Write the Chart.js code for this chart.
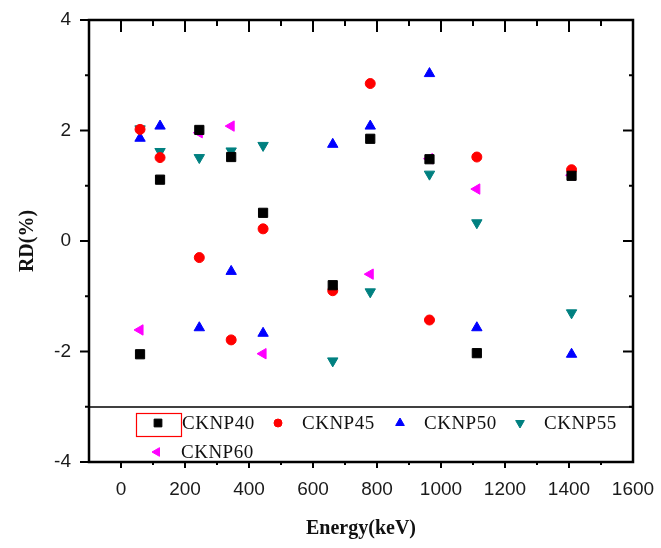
<!DOCTYPE html>
<html>
<head>
<meta charset="utf-8">
<script src="https://cdn.jsdelivr.net/npm/chart.js@4"></script>
<style>html,body{margin:0;padding:0;background:#fff}</style>
</head>
<body>
<canvas id="chart" width="661" height="548"></canvas>
<script>
// gamma energies (keV)
const energies = [59.5, 122, 244.7, 344.3, 444, 661.7, 778.9, 964, 1112, 1408];
// RD (%) per sample
const cknp40 = [-2.05, 1.11, 2.01, 1.52, 0.51, -0.80, 1.85, 1.48, -2.03, 1.18];
const cknp45 = [2.02, 1.51, -0.30, -1.79, 0.22, -0.90, 2.85, -1.43, 1.52, 1.29];
const cknp50 = [1.86, 2.08, -1.57, -0.55, -1.67, 1.75, 2.08, 3.03, -1.57, -2.05];
const cknp55 = [2.03, 1.62, 1.51, 1.63, 1.73, -2.17, -0.92, 1.21, 0.33, -1.30];
const cknp60 = [-1.61, null, 1.96, 2.08, -2.04, null, -0.60, 1.49, 0.94, 1.19];
const xTickLabels = [0, 200, 400, 600, 800, 1000, 1200, 1400, 1600];
const yTickLabels = [-4, -2, 0, 2, 4];

const pts = arr => energies.map((e, i) => ({ x: e, y: arr[i] }));

function ds(label, arr, color, style, rot, r) {
  return {
    label: label,
    data: pts(arr),
    backgroundColor: color,
    borderColor: color,
    pointStyle: style,
    rotation: rot,
    pointRadius: r,
    borderWidth: 1
  };
}

// frame with in/out ticks like the original plot
const frame = {
  id: 'frame',
  afterDraw(chart) {
    const { ctx, chartArea: a, scales: { x, y } } = chart;
    const line = (x1, y1, x2, y2) => { ctx.beginPath(); ctx.moveTo(x1, y1); ctx.lineTo(x2, y2); ctx.stroke(); };
    ctx.save();
    ctx.strokeStyle = '#000';
    ctx.lineWidth = 2;
    x.ticks.forEach(t => {
      if (t.value <= -100 || t.value >= 1600) return;
      const px = x.getPixelForValue(t.value);
      const major = t.value % 200 === 0;
      line(px, a.bottom, px, a.bottom + (major ? 6 : 3));
      line(px, a.top, px, a.top + (major ? 12 : 6));
    });
    y.ticks.forEach(t => {
      const py = y.getPixelForValue(t.value);
      const major = t.value % 2 === 0;
      line(a.left - (major ? 9 : 4), py, a.left, py);
      if (t.value > -4 && t.value < 4) line(a.right - (major ? 10 : 4), py, a.right, py);
    });
    ctx.lineWidth = 2.5;
    ctx.strokeRect(a.left, a.top, a.right - a.left, a.bottom - a.top);
    ctx.restore();
  }
};

// legend sits inside the plot, under a rule
const insideLegend = {
  id: 'insideLegend',
  afterDatasetsDraw(chart) {
    const { ctx, chartArea: a } = chart;
    const top = 407;
    ctx.save();
    ctx.fillStyle = '#fff';
    ctx.fillRect(a.left, top, a.right - a.left, a.bottom - top);
    ctx.strokeStyle = '#000';
    ctx.lineWidth = 1.5;
    ctx.beginPath(); ctx.moveTo(a.left, top); ctx.lineTo(a.right, top); ctx.stroke();
    const spots = [[158, 423], [278, 423], [400, 423], [520, 423], [157, 452]];
    ctx.font = '19px "Liberation Serif", serif';
    ctx.letterSpacing = '0.5px';
    ctx.textBaseline = 'middle';
    chart.data.datasets.forEach((d, i) => {
      const [mx, my] = spots[i];
      ctx.fillStyle = d.backgroundColor;
      ctx.strokeStyle = d.borderColor;
      ctx.lineWidth = 1;
      Chart.helpers.drawPoint(ctx, { pointStyle: d.pointStyle, rotation: d.rotation, radius: d.pointRadius - 1, borderWidth: 1 }, mx, my);
      ctx.fillStyle = '#111';
      ctx.fillText(d.label, mx + 24, my + 1);
    });
    ctx.strokeStyle = '#ff0000';
    ctx.lineWidth = 1.2;
    ctx.strokeRect(136.5, 413.5, 45, 23);
    ctx.restore();
  }
};

new Chart(document.getElementById('chart'), {
  type: 'scatter',
  data: {
    datasets: [
      ds('CKNP40', cknp40, '#000000', 'rect', 0, 6.5),
      ds('CKNP45', cknp45, '#ff0000', 'circle', 0, 5),
      ds('CKNP50', cknp50, '#0000ff', 'triangle', 0, 6),
      ds('CKNP55', cknp55, '#008080', 'triangle', 180, 6),
      ds('CKNP60', cknp60, '#ff00ff', 'triangle', 270, 6)
    ]
  },
  options: {
    responsive: false,
    animation: false,
    layout: { padding: { top: 20, right: 28, left: 0, bottom: 0 } },
    plugins: { legend: { display: false }, tooltip: { enabled: false } },
    scales: {
      x: {
        type: 'linear',
        min: -100,
        max: 1600,
        afterFit: s => { s.height = 86; s.paddingLeft = 0; s.paddingRight = 0; },
        grid: { display: false, drawTicks: false },
        border: { display: false },
        ticks: {
          stepSize: 100,
          padding: 16,
          autoSkip: false,
          maxRotation: 0,
          color: '#1a1a1a',
          font: { family: '"Liberation Sans", Arial, sans-serif', size: 19 },
          callback: v => xTickLabels.includes(v) ? String(v) : ''
        },
        title: {
          display: true,
          text: 'Energy(keV)',
          color: '#111',
          padding: { top: 0, bottom: 7 },
          font: { family: '"Liberation Serif", serif', size: 20, weight: 'bold' }
        }
      },
      y: {
        min: -4,
        max: 4,
        afterFit: s => { s.width = 89; s.paddingTop = 0; s.paddingBottom = 0; },
        grid: { display: false, drawTicks: false },
        border: { display: false },
        ticks: {
          stepSize: 1,
          padding: 18,
          autoSkip: false,
          color: '#1a1a1a',
          font: { family: '"Liberation Sans", Arial, sans-serif', size: 19 },
          callback: v => yTickLabels.includes(v) ? String(v) : ''
        },
        title: {
          display: true,
          text: 'RD(%)',
          color: '#111',
          padding: { top: 16, bottom: 0 },
          font: { family: '"Liberation Serif", serif', size: 20, weight: 'bold' }
        }
      }
    }
  },
  plugins: [frame, insideLegend]
});
</script>
</body>
</html>
